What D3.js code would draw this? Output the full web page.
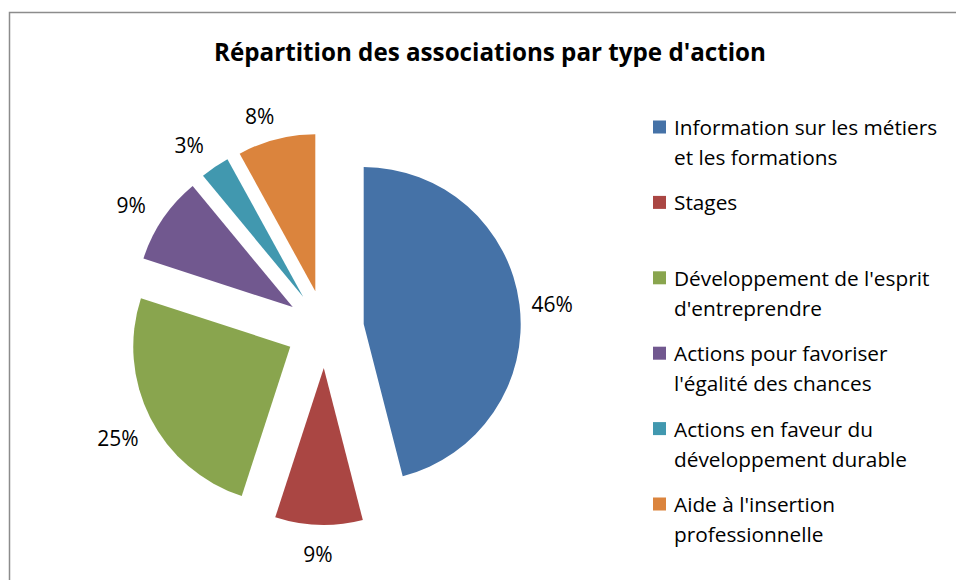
<!DOCTYPE html>
<html>
<head>
<meta charset="utf-8">
<script src="https://cdn.jsdelivr.net/npm/d3@7"></script>
<style>
  body { margin: 0; background: #fff; }
  text { font-family: "Open Sans", "DejaVu Sans", sans-serif; fill: #000; }
</style>
</head>
<body>
<div id="chart"></div>
<script>
// data
var categories = [
  "Information sur les métiers|et les formations",
  "Stages",
  "Développement de l'esprit|d'entreprendre",
  "Actions pour favoriser|l'égalité des chances",
  "Actions en faveur du|développement durable",
  "Aide à l'insertion|professionnelle"
];
var values = [46, 9, 25, 9, 3, 8];
var colors = ["#4572A7", "#AA4643", "#89A54E", "#71588F", "#4198AF", "#DB843D"];
var title = "Répartition des associations par type d'action";

var width = 956, height = 580;

var svg = d3.select("#chart").append("svg")
  .attr("width", width)
  .attr("height", height);

// frame (runs past right and bottom edges)
svg.append("rect")
  .attr("x", 9.5).attr("y", 12.5)
  .attr("width", 1000).attr("height", 1000)
  .attr("fill", "none")
  .attr("stroke", "#8c8c8c")
  .attr("stroke-width", 1.5);

svg.append("text")
  .attr("x", 490).attr("y", 61)
  .attr("text-anchor", "middle")
  .style("font-weight", "bold")
  .style("font-size", "24.2px")
  .text(title);

////////////////////////////// PIE
var cx = 325, cy = 329, r = 157, explode = 39;

var pie = d3.pie().sort(null).value(function(d) { return d; });
var arc = d3.arc().innerRadius(0).outerRadius(r);
var arcs = pie(values);
var total = d3.sum(values);

var g = svg.append("g").attr("transform", "translate(" + cx + "," + cy + ")");

arcs.forEach(function(a, i) {
  var mid = (a.startAngle + a.endAngle) / 2;
  var dx = Math.sin(mid), dy = -Math.cos(mid);

  g.append("path")
    .attr("d", arc(a))
    .attr("fill", colors[i])
    .attr("transform", "translate(" + (dx * explode) + "," + (dy * explode) + ")");

  // label outside the slice end
  var lbl = Math.round(a.value / total * 100) + "%";
  var t = g.append("text")
    .style("font-size", "21px")
    .attr("text-anchor", "middle")
    .attr("dominant-baseline", "central")
    .text(lbl);
  var hw = t.node().getComputedTextLength() / 2, hh = 13;
  var dist = explode + r + 12 + hw * Math.abs(dx) + hh * Math.abs(dy);
  t.attr("x", dx * dist - 10 * Math.max(0, -dy)).attr("y", dy * dist + 4);
});

////////////////////////////// LEGEND
var legend = svg.append("g").attr("transform", "translate(653,127)");
var step = 75.4;

categories.forEach(function(c, i) {
  var item = legend.append("g").attr("transform", "translate(0," + (i * step) + ")");
  item.append("rect")
    .attr("x", 0).attr("y", -6.5)
    .attr("width", 13).attr("height", 13)
    .attr("fill", colors[i]);
  var t = item.append("text")
    .attr("x", 21).attr("y", 0)
    .style("font-size", "20.8px");
  c.split("|").forEach(function(line, j) {
    t.append("tspan")
      .attr("x", 21)
      .attr("y", j * 30)
      .attr("dominant-baseline", "central")
      .text(line);
  });
});
</script>
</body>
</html>
